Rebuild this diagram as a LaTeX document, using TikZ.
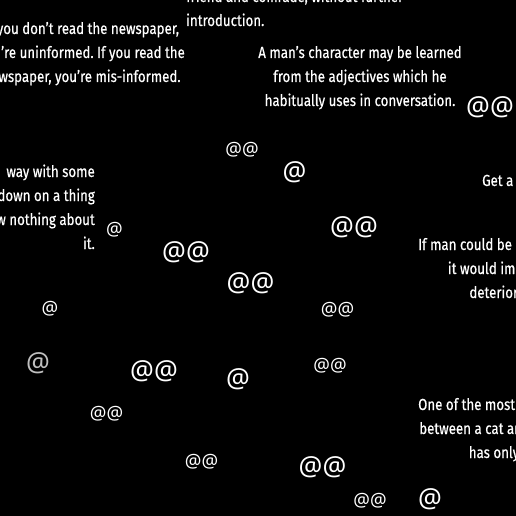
\documentclass[tikz,border=0pt]{standalone}
\usepackage{fontspec}
\setmainfont{Fira Sans}[FakeStretch=0.83,FakeBold=0.5]
\newfontfamily\atfont{Noto Sans}
\frenchspacing
\begin{document}
\begin{tikzpicture}[x=1pt,y=-1pt,
  quote/.style={text=white,inner sep=0pt,font=\fontsize{16}{24}\selectfont},
  atbig/.style={text=white,inner sep=0pt,font=\atfont\fontsize{26.5}{26.5}\selectfont},
  atsmall/.style={text=white,inner sep=0pt,font=\atfont\fontsize{18.5}{18.5}\selectfont},
  atgray/.style={atbig,text=black!25!white}]
\useasboundingbox (0,0) rectangle (516,516);
\fill[black] (0,0) rectangle (516,516);
\clip (0,0) rectangle (516,516);
% quotes (base anchor = baseline of the last line)
\node[quote,align=center,anchor=base] (qa) at (82,82) {If you don't read the newspaper,\\you're uninformed. If you read the\\newspaper, you're mis-informed.};
\node[quote,align=left,anchor=base west] (qb) at (186,26) {friend and comrade, without further\\introduction.};
\node[quote,align=center,anchor=base] (qc) at (360,106) {A man's character may be learned\\from the adjectives which he\\habitually uses in conversation.};
\node[quote,align=right,anchor=base east] (qd) at (95,249) {way with some\\down on a thing\\know nothing about\\it.};
\node[quote,align=left,anchor=base west] (qe) at (482,186) {Get a bicycle. You will not regret it, if you live.};
\node[quote,align=center,anchor=base west] (qf) at (418,298) {If man could be crossed with the cat\\it would improve man, but\\deteriorate the cat.};
\node[quote,align=center,anchor=base west] (qg) at (418,458) {One of the most striking differences\\between a cat and a lie is that a cat\\has only nine lives.};
% at signs
\node[atsmall] (a1) at (242,150) {@@};
\node[atbig] (a2) at (294.5,172.5) {@};
\node[atbig] (a3) at (490,107) {@@};
\node[atbig] (a4) at (354,227.5) {@@};
\node[atsmall] (a5) at (114.5,230) {@};
\node[atbig] (a6) at (186,252.5) {@@};
\node[atbig] (a7) at (250.5,283) {@@};
\node[atsmall] (a8) at (337.5,310) {@@};
\node[atsmall] (a9) at (50,309) {@};
\node[atgray] (a10) at (38,363) {@};
\node[atbig] (a11) at (154,371.5) {@@};
\node[atbig] (a12) at (238,379.5) {@};
\node[atsmall] (a13) at (330,366) {@@};
\node[atsmall] (a14) at (106.5,414) {@@};
\node[atsmall] (a15) at (201.5,462) {@@};
\node[atbig] (a16) at (322.5,467.5) {@@};
\node[atsmall] (a17) at (370,501) {@@};
\node[atbig] (a18) at (430,499) {@};
\end{tikzpicture}
\end{document}
